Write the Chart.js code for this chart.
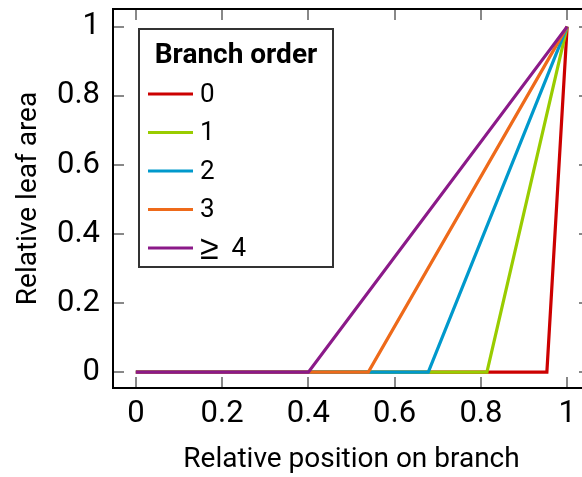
<!DOCTYPE html>
<html>
<head>
<meta charset="utf-8">
<script src="https://cdn.jsdelivr.net/npm/chart.js@4/dist/chart.umd.min.js"></script>
<style>
  html, body { margin: 0; padding: 0; background: #fff; overflow: hidden; }
  #wrap { width: 600px; height: 477px; }
</style>
</head>
<body>
<div id="wrap"><canvas id="c" width="600" height="477"></canvas></div>
<script>
// Branch orders shown in the legend
const branchOrders = ['0', '1', '2', '3', '\u2265  4'];

// Relative position on branch (x) and relative leaf area (y) for each branch order
const position0 = [0, 0.953, 1];
const area0     = [0, 0, 1];
const position1 = [0, 0.814, 1];
const area1     = [0, 0, 1];
const position2 = [0, 0.678, 1];
const area2     = [0, 0, 1];
const position3 = [0, 0.539, 1];
const area3     = [0, 0, 1];
const position4 = [0, 0.400, 1];
const area4     = [0, 0, 1];

// Axis ticks
const xTickValues = [0, 0.2, 0.4, 0.6, 0.8, 1];
const xTickLabels = ['0', '0.2', '0.4', '0.6', '0.8', '1'];
const yTickValues = [0, 0.2, 0.4, 0.6, 0.8, 1];
const yTickLabels = ['0', '0.2', '0.4', '0.6', '0.8', '1'];

const seriesPositions = [position0, position1, position2, position3, position4];
const seriesAreas = [area0, area1, area2, area3, area4];
const seriesColors = ['#cc0000', '#99cc00', '#0099cc', '#ee6a1a', '#8b1a89'];

const FONT = 'Roboto, "DejaVu Sans", sans-serif';
const MATH_FONT = '"Liberation Sans", sans-serif';

const datasets = branchOrders.map((label, i) => ({
  label,
  data: seriesPositions[i].map((x, j) => ({ x, y: seriesAreas[i][j] })),
  borderColor: seriesColors[i],
  backgroundColor: seriesColors[i],
  borderWidth: 3.2,
  pointRadius: 0,
  fill: false,
  tension: 0,
  // higher branch orders are drawn on top
  order: branchOrders.length - 1 - i
}));

// Frame around the plot plus inward-pointing tick marks on all four sides
const framePlugin = {
  id: 'frame',
  beforeDatasetsDraw(chart) {
    const { ctx, chartArea: a, scales } = chart;
    const len = 11;
    ctx.save();
    ctx.strokeStyle = '#888';
    ctx.lineWidth = 2;
    ctx.beginPath();
    xTickValues.forEach(v => {
      const px = Math.round(scales.x.getPixelForValue(v));
      ctx.moveTo(px, a.bottom); ctx.lineTo(px, a.bottom - len);
      ctx.moveTo(px, a.top); ctx.lineTo(px, a.top + len);
    });
    yTickValues.forEach(v => {
      const py = Math.round(scales.y.getPixelForValue(v));
      ctx.moveTo(a.left, py); ctx.lineTo(a.left + len, py);
      ctx.moveTo(a.right, py); ctx.lineTo(a.right - len, py);
    });
    ctx.stroke();
    ctx.strokeStyle = '#000';
    ctx.lineWidth = 2;
    ctx.strokeRect(a.left, a.top, a.right - a.left, a.bottom - a.top);
    ctx.restore();
  }
};

// Draws a legend label, setting math symbols such as "≥" in a separate font
function drawLabel(ctx, text, x, y) {
  for (const ch of text) {
    const isSymbol = ch.charCodeAt(0) > 127;
    ctx.font = isSymbol ? '34px ' + MATH_FONT : '26px ' + FONT;
    ctx.fillText(ch, x, isSymbol ? y + 1 : y);
    x += ctx.measureText(ch).width;
  }
}

// Boxed legend with a bold title, placed in the upper-left of the plot
const legendPlugin = {
  id: 'boxLegend',
  afterDatasetsDraw(chart) {
    const { ctx, chartArea: a } = chart;
    const left = a.left + 26, top = a.top + 20, w = 194, h = 238;
    ctx.save();
    ctx.fillStyle = '#fff';
    ctx.fillRect(left, top, w, h);
    ctx.strokeStyle = '#333';
    ctx.lineWidth = 2;
    ctx.strokeRect(left, top, w, h);
    ctx.fillStyle = '#000';
    ctx.textBaseline = 'middle';
    ctx.textAlign = 'center';
    ctx.font = 'bold 28px ' + FONT;
    ctx.fillText('Branch order', left + w / 2, top + 27);
    ctx.textAlign = 'left';
    chart.data.datasets.forEach((ds, i) => {
      const y = top + 65 + i * 38.5;
      ctx.strokeStyle = ds.borderColor;
      ctx.lineWidth = 3.2;
      ctx.beginPath();
      ctx.moveTo(left + 9, y);
      ctx.lineTo(left + 54, y);
      ctx.stroke();
      drawLabel(ctx, ds.label, left + 61, y + 1);
    });
    ctx.restore();
  }
};

new Chart(document.getElementById('c'), {
  type: 'line',
  data: { datasets },
  plugins: [framePlugin, legendPlugin],
  options: {
    responsive: false,
    animation: false,
    layout: { padding: { top: 9, right: 10, left: 0, bottom: 0 } },
    plugins: { legend: { display: false }, tooltip: { enabled: false } },
    scales: {
      x: {
        type: 'linear',
        min: -0.053,
        max: 1.053,
        afterBuildTicks: s => { s.ticks = xTickValues.map(value => ({ value })); },
        afterFit: s => { s.height = 89; s.paddingLeft = 0; s.paddingRight = 0; },
        grid: { drawOnChartArea: false, drawTicks: false },
        border: { display: false },
        ticks: {
          padding: 8,
          color: '#000',
          font: { family: FONT, size: 31 },
          maxRotation: 0,
          autoSkip: false,
          callback: v => xTickLabels[xTickValues.indexOf(v)]
        },
        title: {
          display: true,
          text: 'Relative position on branch',
          color: '#000',
          font: { family: FONT, size: 28 },
          padding: { top: 0, bottom: 0 }
        }
      },
      y: {
        type: 'linear',
        min: -0.046,
        max: 1.051,
        afterBuildTicks: s => { s.ticks = yTickValues.map(value => ({ value })); },
        afterFit: s => { s.width = 113; s.paddingTop = 0; s.paddingBottom = 0; },
        grid: { drawOnChartArea: false, drawTicks: false },
        border: { display: false },
        ticks: {
          padding: 13,
          color: '#000',
          font: { family: FONT, size: 31 },
          autoSkip: false,
          callback: v => yTickLabels[yTickValues.indexOf(v)]
        },
        title: {
          display: true,
          text: 'Relative leaf area',
          color: '#000',
          font: { family: FONT, size: 28 },
          padding: { top: 12, bottom: 0 }
        }
      }
    }
  }
});
</script>
</body>
</html>
